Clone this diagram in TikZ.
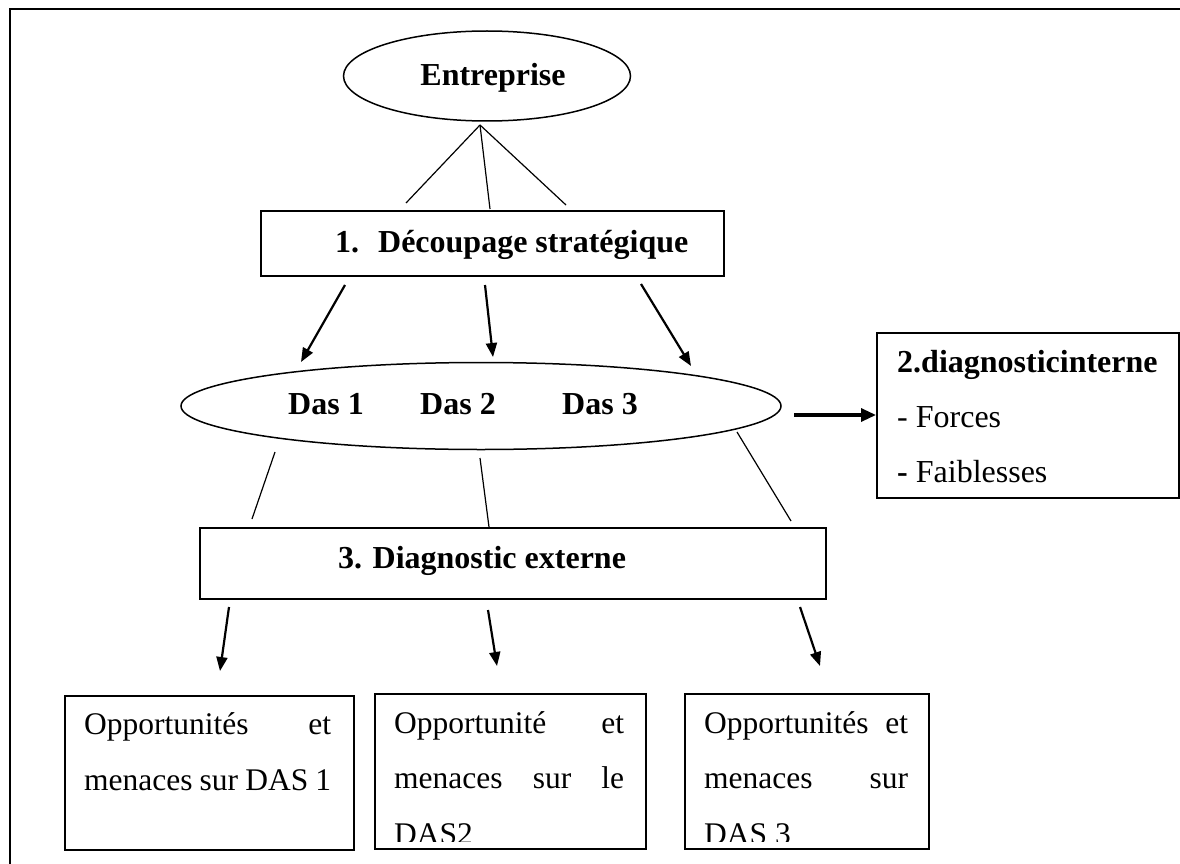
\documentclass[tikz,border=0pt]{standalone}
\usepackage{fontspec}
\setmainfont{Liberation Serif}
\usetikzlibrary{shapes.geometric,arrows.meta}
\begin{document}
\begin{tikzpicture}[x=1pt,y=-1pt,
  frame/.style={line width=2pt},
  thinline/.style={line width=1.2pt},
  arr/.style={line width=2.2pt,-{Triangle[length=14pt,width=11pt]}},
  bigarr/.style={line width=3.2pt,-{Triangle[length=15pt,width=13pt]}},
  ell/.style={draw,ellipse,line width=1.5pt,inner sep=0pt},
  box/.style={draw,rectangle,line width=1.5pt,inner sep=0pt,anchor=north west},
  txt/.style={inner sep=0pt,font=\fontsize{32}{40}\selectfont},
  btxt/.style={txt,font=\fontsize{32}{40}\selectfont\bfseries},
  ptxt/.style={inner sep=0pt,anchor=base west,font=\fontsize{31.5}{40}\selectfont}]
\useasboundingbox (0,0) rectangle (1180,864);
% outer frame
\coordinate (fa) at (10,866);
\coordinate (fb) at (10,9);
\coordinate (fc) at (1182,9);
\draw[frame] (fa) -- (fb) -- (fc);

% top ellipse
\node[ell,minimum width=287pt,minimum height=90pt] (ent) at (487,76) {};
\node[btxt,anchor=base] (entt) at (493,86) {Entreprise};

% box 1
\node[box,minimum width=463pt,minimum height=65pt] (b1) at (260,210) {};
\node[btxt,anchor=base west] (b1t) at (335,252) {1.\hspace{19pt}Découpage stratégique};

% Das ellipse
\node[ell,minimum width=600pt,minimum height=87pt] (das) at (481,406) {};
\node[btxt,anchor=base] (d1) at (326,414) {Das 1};
\node[btxt,anchor=base] (d2) at (458,414) {Das 2};
\node[btxt,anchor=base] (d3) at (600,414) {Das 3};

% box 2
\node[box,minimum width=302pt,minimum height=165pt] (b2) at (876,332) {};
\node[btxt,anchor=base west] (b2a) at (897,372) {2.diagnosticinterne};
\node[txt,anchor=base west] (b2b) at (897,427) {- Forces};
\node[txt,anchor=base west] (b2c) at (897,482) {\textbf{-} Faiblesses};

% box 3
\node[box,minimum width=626pt,minimum height=71pt] (b3) at (199,527) {};
\node[btxt,anchor=base] (b3t) at (482,568) {3. Diagnostic externe};

% bottom boxes
\node[box,minimum width=289pt,minimum height=154pt] (ba) at (64,695) {};
\node[box,minimum width=271pt,minimum height=155pt] (bb) at (374,693) {};
\node[box,minimum width=244pt,minimum height=155pt] (bc) at (684,693) {};

\node[ptxt] (ba1) at (84,734) {\makebox[247pt][s]{Opportunités et}};
\node[ptxt] (ba2) at (84,790) {\makebox[247pt][s]{menaces sur DAS 1}};
\node[ptxt] (bb1) at (394,733) {\makebox[230pt][s]{Opportunité et}};
\node[ptxt] (bb2) at (394,788) {\makebox[230pt][s]{menaces sur le}};
\node[ptxt] (bc1) at (704,733) {\makebox[204pt][s]{Opportunités et}};
\node[ptxt] (bc2) at (704,788) {\makebox[204pt][s]{menaces sur}};
\begin{scope}
  \clip (370,800) rectangle (940,841);
  \node[ptxt] (bb3) at (394,844) {DAS2};
  \node[ptxt] (bc3) at (704,844) {DAS 3};
\end{scope}

% lines Entreprise -> box 1
\coordinate (apex) at (480,125);
\coordinate (e1) at (406,203);
\coordinate (e2) at (490,209);
\coordinate (e3) at (566,205);
\draw[thinline] (apex) -- (e1);
\draw[thinline] (apex) -- (e2);
\draw[thinline] (apex) -- (e3);

% arrows box 1 -> Das
\coordinate (a1s) at (345,285); \coordinate (a1e) at (301,362);
\coordinate (a2s) at (485,285); \coordinate (a2e) at (493,357);
\coordinate (a3s) at (641,284); \coordinate (a3e) at (691,366);
\draw[arr] (a1s) -- (a1e);
\draw[arr] (a2s) -- (a2e);
\draw[arr] (a3s) -- (a3e);

% arrow Das -> box 2
\coordinate (rs) at (794,415);
\draw[bigarr] (rs) -- (b2.west |- rs);

% lines Das -> box 3
\coordinate (l1s) at (275,452); \coordinate (l1e) at (252,519);
\coordinate (l2s) at (480,458); \coordinate (l2e) at (489,527);
\coordinate (l3s) at (737,432); \coordinate (l3e) at (791,521);
\draw[thinline] (l1s) -- (l1e);
\draw[thinline] (l2s) -- (l2e);
\draw[thinline] (l3s) -- (l3e);

% arrows box 3 -> bottom boxes
\coordinate (c1s) at (229,607); \coordinate (c1e) at (220,671);
\coordinate (c2s) at (488,610); \coordinate (c2e) at (497,666);
\coordinate (c3s) at (800,607); \coordinate (c3e) at (820,666);
\draw[arr] (c1s) -- (c1e);
\draw[arr] (c2s) -- (c2e);
\draw[arr] (c3s) -- (c3e);
\end{tikzpicture}
\end{document}
